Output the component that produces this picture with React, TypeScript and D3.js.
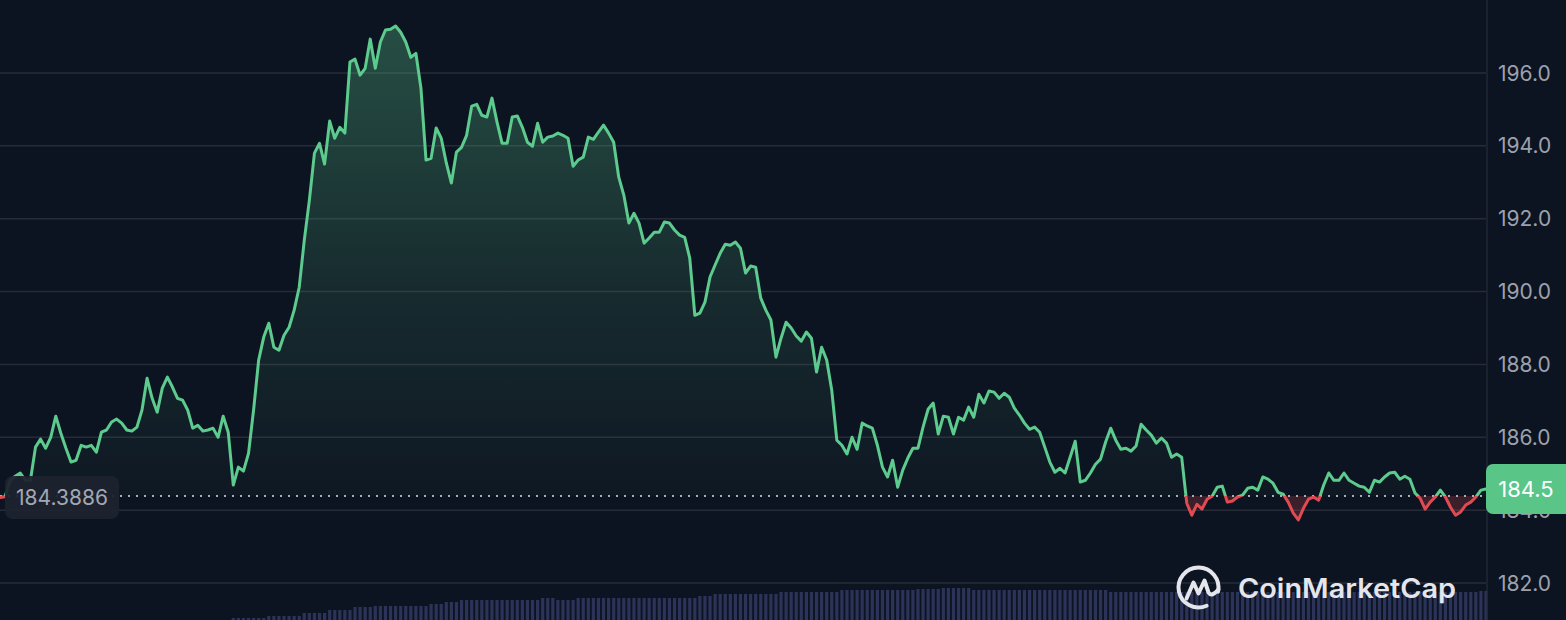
import React from 'react';
import * as d3 from 'd3';

const W = 1566;
const H = 620;
const PLOT_RIGHT = 1486;

// Price series (5-minute steps, 24h)
const prices: number[] = [
  184.35, 184.37, 184.82, 184.93, 185.02, 184.82, 184.82, 185.73, 185.95, 185.70,
  186.00, 186.58, 186.11, 185.70, 185.32, 185.37, 185.78, 185.73, 185.78, 185.59,
  186.14, 186.20, 186.42, 186.50, 186.39, 186.20, 186.17, 186.28, 186.75, 187.62,
  187.07, 186.69, 187.35, 187.65, 187.38, 187.07, 187.02, 186.75, 186.25, 186.33,
  186.17, 186.20, 186.25, 186.00, 186.58, 186.14, 184.69, 185.18, 185.07, 185.56,
  186.75, 188.12, 188.75, 189.13, 188.47, 188.39, 188.80, 189.02, 189.49, 190.12,
  191.41, 192.51, 193.80, 194.07, 193.50, 194.68, 194.21, 194.51, 194.35, 196.30,
  196.38, 195.94, 196.13, 196.93, 196.13, 196.85, 197.18, 197.20, 197.29, 197.12,
  196.85, 196.43, 196.54, 195.58, 193.61, 193.66, 194.49, 194.21, 193.53, 192.98,
  193.83, 193.96, 194.29, 195.09, 195.14, 194.84, 194.79, 195.31, 194.65, 194.07,
  194.07, 194.79, 194.82, 194.51, 194.10, 193.99, 194.62, 194.10, 194.24, 194.27,
  194.35, 194.29, 194.21, 193.44, 193.61, 193.69, 194.24, 194.18, 194.38, 194.57,
  194.35, 194.10, 193.14, 192.65, 191.88, 192.15, 191.88, 191.33, 191.47, 191.63,
  191.63, 191.91, 191.88, 191.69, 191.55, 191.49, 190.92, 189.35, 189.41, 189.71,
  190.40, 190.73, 191.05, 191.30, 191.27, 191.36, 191.19, 190.51, 190.70, 190.67,
  189.82, 189.49, 189.22, 188.20, 188.72, 189.16, 189.00, 188.78, 188.64, 188.89,
  188.72, 187.79, 188.47, 188.12, 187.29, 185.92, 185.78, 185.54, 186.00, 185.67,
  186.39, 186.31, 186.25, 185.78, 185.18, 184.91, 185.37, 184.63, 185.10, 185.43,
  185.70, 185.70, 186.28, 186.77, 186.94, 186.09, 186.58, 186.55, 186.09, 186.55,
  186.47, 186.83, 186.55, 187.18, 186.94, 187.27, 187.24, 187.07, 187.21, 187.10,
  186.80, 186.61, 186.39, 186.22, 186.28, 186.14, 185.73, 185.32, 185.04, 185.15,
  185.02, 185.45, 185.89, 184.77, 184.82, 185.02, 185.26, 185.40, 185.87, 186.25,
  185.92, 185.67, 185.70, 185.62, 185.76, 186.36, 186.20, 186.06, 185.84, 185.98,
  185.84, 185.45, 185.54, 185.45, 184.19, 183.86, 184.16, 184.03, 184.30, 184.38,
  184.63, 184.66, 184.22, 184.25, 184.36, 184.41, 184.60, 184.63, 184.55, 184.91,
  184.85, 184.74, 184.49, 184.44, 184.22, 183.92, 183.73, 184.05, 184.30, 184.36,
  184.27, 184.69, 185.02, 184.82, 184.82, 185.02, 184.82, 184.74, 184.66, 184.63,
  184.49, 184.82, 184.77, 184.91, 185.02, 185.04, 184.85, 184.93, 184.85, 184.47,
  184.33, 184.03, 184.22, 184.36, 184.55, 184.36, 184.08, 183.86, 183.95, 184.14,
  184.22, 184.36, 184.55, 184.58,
];

// Volume series (relative units), one per price point
const volumes: number[] = [
  0, 0, 0, 0, 0, 0, 0, 0, 0, 0,
  0, 0, 0, 0, 0, 0, 0, 0, 0, 0,
  0, 0, 0, 0, 0, 0, 0, 0, 0, 0,
  0, 0, 0, 0, 0, 0, 0, 0, 0, 0,
  0, 0, 0, 0, 0, 0, 2, 2, 2, 2,
  2, 2, 2, 4, 4, 4, 4, 4, 4, 4,
  7, 7, 7, 7, 7, 10, 10, 10, 10, 10,
  13, 13, 13, 13, 14, 14, 14, 14, 14, 14,
  14, 14, 14, 14, 14, 16, 16, 16, 18, 18,
  18, 20, 20, 20, 20, 20, 20, 20, 20, 20,
  20, 20, 20, 20, 20, 20, 20, 22, 22, 22,
  20, 20, 20, 20, 22, 22, 22, 22, 22, 22,
  22, 22, 22, 22, 22, 22, 22, 22, 22, 22,
  22, 22, 22, 22, 22, 22, 22, 22, 24, 24,
  24, 26, 26, 26, 26, 26, 26, 26, 26, 26,
  26, 26, 26, 26, 28, 28, 28, 28, 28, 28,
  28, 28, 28, 28, 28, 28, 30, 30, 30, 30,
  30, 30, 30, 30, 30, 30, 30, 30, 30, 30,
  30, 31, 31, 31, 31, 31, 32, 32, 32, 32,
  32, 32, 30, 30, 30, 30, 30, 30, 30, 30,
  30, 30, 30, 30, 30, 30, 30, 30, 30, 30,
  30, 30, 30, 30, 30, 30, 30, 30, 30, 28,
  28, 28, 28, 28, 28, 28, 28, 28, 28, 28,
  28, 28, 28, 28, 28, 28, 28, 28, 28, 28,
  28, 28, 28, 28, 28, 28, 28, 28, 28, 28,
  28, 28, 28, 28, 28, 28, 28, 28, 28, 28,
  28, 28, 28, 28, 28, 28, 28, 28, 28, 28,
  28, 28, 28, 28, 28, 28, 28, 28, 28, 28,
  28, 28, 28, 28, 28, 28, 28, 28, 28, 28,
  28, 28, 29, 29,
];

const yTicks: number[] = [182, 184, 186, 188, 190, 192, 194, 196];
const baselinePrice = 184.3886;
const baselineLabel = '184.3886';
const lastPriceLabel = '184.5';
const brandName = 'CoinMarketCap';

const BG = '#0d1421';
const GRID = '#262b37';
const GREEN = '#5ccb8d';
const RED = '#e04b52';
const AXIS_TEXT = '#9ca1ae';
const FONT = "Inter, 'Noto Sans', 'DejaVu Sans', sans-serif";

export default function App() {
  const x = d3.scaleLinear().domain([0, prices.length - 1]).range([0, PLOT_RIGHT]);
  const y = d3.scaleLinear().domain([182, 196]).range([583, 73]);
  const vScale = d3.scaleLinear().domain([0, 32]).range([0, 32]);
  const baseY = y(baselinePrice);

  const linePath = d3
    .line<number>()
    .x((_, i) => x(i))
    .y((d) => y(d))(prices) as string;
  const areaPath = d3
    .area<number>()
    .x((_, i) => x(i))
    .y0(baseY)
    .y1((d) => y(d))(prices) as string;

  const barW = 3.2;
  const lastY = y(prices[prices.length - 1]);

  // logo geometry
  const cx = 1198.5;
  const cy = 587.5;
  const r = 20;
  const a1 = (12 * Math.PI) / 180;
  const a2 = (66 * Math.PI) / 180;
  const ringPath = `M${cx + r * Math.cos(a1)},${cy + r * Math.sin(a1)} A${r},${r} 0 1 0 ${
    cx + r * Math.cos(a2)
  },${cy + r * Math.sin(a2)}`;

  return (
    <svg
      width={W}
      height={H}
      style={{ position: 'fixed', left: 0, top: 0, display: 'block', background: BG }}
    >
      <defs>
        <linearGradient id="gUp" gradientUnits="userSpaceOnUse" x1="0" y1={y(197.3)} x2="0" y2={baseY}>
          <stop offset="0" stopColor={GREEN} stopOpacity={0.32} />
          <stop offset="0.55" stopColor={GREEN} stopOpacity={0.13} />
          <stop offset="1" stopColor={GREEN} stopOpacity={0.02} />
        </linearGradient>
        <clipPath id="clipUp">
          <rect x={0} y={0} width={PLOT_RIGHT + 2} height={baseY} />
        </clipPath>
        <clipPath id="clipDown">
          <rect x={0} y={baseY} width={PLOT_RIGHT + 2} height={H - baseY} />
        </clipPath>
      </defs>

      <rect x={0} y={0} width={W} height={H} fill={BG} />

      {/* volume bars */}
      <g>
        {volumes.map((v, i) =>
          v > 0 ? (
            <rect
              key={i}
              x={x(i) - barW / 2}
              y={H - vScale(v)}
              width={barW}
              height={vScale(v)}
              fill="#2b3358"
            />
          ) : null
        )}
      </g>

      {/* grid */}
      <g>
        {yTicks.map((t) => (
          <line key={t} x1={0} x2={PLOT_RIGHT} y1={y(t)} y2={y(t)} stroke={GRID} strokeWidth={1.5} />
        ))}
        <line x1={PLOT_RIGHT + 1} x2={PLOT_RIGHT + 1} y1={0} y2={H} stroke={GRID} strokeWidth={1.2} />
      </g>

      {/* areas */}
      <path d={areaPath} fill="url(#gUp)" clipPath="url(#clipUp)" />
      <path d={areaPath} fill={RED} fillOpacity={0.22} clipPath="url(#clipDown)" />

      {/* baseline dotted */}
      <line
        x1={0}
        x2={PLOT_RIGHT}
        y1={baseY}
        y2={baseY}
        stroke="#a9adb8"
        strokeWidth={2}
        strokeDasharray="2 6"
      />

      {/* line */}
      <path
        d={linePath}
        fill="none"
        stroke={GREEN}
        strokeWidth={3}
        strokeLinejoin="round"
        strokeLinecap="round"
        clipPath="url(#clipUp)"
      />
      <path
        d={linePath}
        fill="none"
        stroke={RED}
        strokeWidth={3}
        strokeLinejoin="round"
        strokeLinecap="round"
        clipPath="url(#clipDown)"
      />

      {/* y axis labels */}
      <g fontFamily={FONT} fontSize={21} fill={AXIS_TEXT}>
        {yTicks.map((t) => (
          <text key={t} x={1498} y={y(t)} dy="0.36em">
            {t.toFixed(1)}
          </text>
        ))}
      </g>

      {/* last price label */}
      <g>
        <rect x={PLOT_RIGHT} y={lastY - 25} width={W - PLOT_RIGHT + 10} height={50} rx={7} fill="#59c688" />
        <text
          x={PLOT_RIGHT + 40}
          y={lastY}
          dy="0.36em"
          textAnchor="middle"
          fontFamily={FONT}
          fontSize={22}
          fill="#ffffff"
        >
          {lastPriceLabel}
        </text>
      </g>

      {/* baseline label */}
      <g>
        <rect x={5} y={baseY - 20} width={114} height={43} rx={8} fill="#1e232e" fillOpacity={0.95} />
        <text
          x={62}
          y={baseY + 1}
          dy="0.36em"
          textAnchor="middle"
          fontFamily={FONT}
          fontSize={21}
          fill="#a3a7b3"
        >
          {baselineLabel}
        </text>
      </g>

      {/* watermark logo */}
      <g stroke="#e4e6ec" fill="none" strokeWidth={4} strokeLinecap="round" strokeLinejoin="round">
        <path d={ringPath} />
        <path
          d={`M${cx - 12},${cy + 11} L${cx - 5},${cy - 5} L${cx},${cy + 6} L${cx + 6},${cy - 7} L${cx + 10},${cy + 5} Q${
            cx + 13
          },${cy + 10} ${cx + 20},${cy + 2}`}
        />
      </g>
      <text
        x={1238}
        y={598}
        fontFamily={FONT}
        fontSize={27}
        fontWeight={600}
        fill="#e4e6ec"
        textLength={218}
        lengthAdjust="spacingAndGlyphs"
      >
        {brandName}
      </text>
    </svg>
  );
}
